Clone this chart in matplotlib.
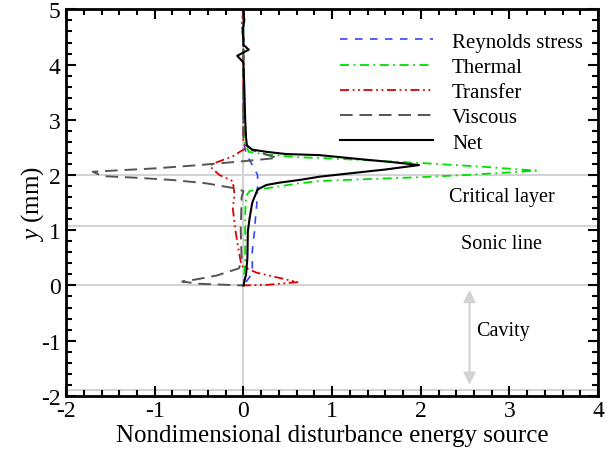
import numpy as np
import matplotlib
matplotlib.use('Agg')
import matplotlib.pyplot as plt
from matplotlib.ticker import MultipleLocator

plt.rcParams['font.family'] = ['Liberation Serif', 'DejaVu Serif']
plt.rcParams['mathtext.fontset'] = 'custom'
plt.rcParams['mathtext.rm'] = 'Liberation Serif'
plt.rcParams['mathtext.it'] = 'Liberation Serif:italic'
plt.rcParams['axes.unicode_minus'] = False

# Energy budget profiles (x = source term, y in mm)
reynolds_x = [0.0, 0.0, 0.01, 0.03, 0.07, 0.1, 0.16, 0.16, 0.15, 0.135, 0.125, 0.1, 0.1, 0.07, 0.0]
reynolds_y = [5.0, 2.8, 2.55, 2.4, 2.27, 2.18, 2.0, 1.8, 1.46, 1.2, 0.98, 0.62, 0.3, 0.15, 0.0]

thermal_x = [0.0, 0.0, 0.01, 0.06, 0.26, 0.63, 0.86, 1.98, 2.7, 3.3, 3.03, 2.5, 1.98, 1.3,
             0.86, 0.63, 0.26, 0.07, 0.03, 0.02, 0.02, 0.02, 0.0]
thermal_y = [5.0, 3.0, 2.6, 2.42, 2.37, 2.32, 2.31, 2.22, 2.15, 2.08, 2.05, 2.0, 1.96, 1.92,
             1.89, 1.85, 1.76, 1.71, 1.62, 1.3, 0.8, 0.4, 0.0]

transfer_x = [0.0, -0.02, 0.0, 0.0, 0.03, -0.12, -0.35, -0.38, -0.27, -0.12, -0.1, -0.12,
              -0.09, -0.05, -0.02, 0.15, 0.37, 0.61, 0.26, 0.0]
transfer_y = [5.0, 4.7, 4.5, 2.6, 2.49, 2.34, 2.2, 2.16, 2.0, 1.89, 1.64, 1.4,
              1.0, 0.6, 0.35, 0.23, 0.15, 0.06, 0.01, 0.0]

viscous_x = [0.0, 0.0, 0.1, 0.38, 0.0, -0.5, -1.0, -1.7, -1.59, -1.2, -0.8, -0.42, -0.1, 0.0,
             -0.02, -0.03, -0.02, -0.05, -0.3, -0.53, -0.69, -0.5, 0.0]
viscous_y = [5.0, 2.6, 2.45, 2.31, 2.25, 2.18, 2.12, 2.06, 1.98, 1.95, 1.91, 1.85, 1.76, 1.71,
             1.6, 1.0, 0.45, 0.31, 0.18, 0.11, 0.07, 0.03, 0.0]

net_x = [0.0, 0.01, -0.01, 0.0, 0.0, 0.06, -0.07, 0.0, 0.01, 0.02, 0.03, 0.04, 0.1, 0.26, 0.48,
         0.86, 1.3, 1.7, 1.98, 1.6, 1.2, 0.86, 0.63, 0.4, 0.26, 0.16, 0.1, 0.07, 0.05, 0.045,
         0.03, 0.0]
net_y = [5.0, 4.8, 4.6, 4.45, 4.36, 4.27, 4.16, 4.04, 3.6, 3.0, 2.67, 2.53, 2.46, 2.42, 2.38,
         2.36, 2.29, 2.23, 2.18, 2.1, 2.03, 1.97, 1.91, 1.86, 1.82, 1.74, 1.5, 1.22, 0.98, 0.5,
         0.2, 0.0]

# reference lines: critical layer, sonic line, wall, cavity bottom
ref_levels = [2.0, 1.07, 0.0, -1.9]
region_labels = ['Critical layer', 'Sonic line', 'Cavity']
region_y = [1.61, 0.76, -0.82]

fig = plt.figure(figsize=(6.06, 4.52), dpi=100)
ax = fig.add_axes([0.109, 0.122, 0.878, 0.855])

for lv in ref_levels:
    ax.axhline(lv, color='#d3d3d3', lw=1.5, zorder=1)
ax.axvline(0.0, color='#d3d3d3', lw=1.5, zorder=1)

ax.plot(reynolds_x, reynolds_y, color='#3344ff', lw=1.2, dashes=(4.5, 4.5), label='Reynolds stress')
ax.plot(thermal_x, thermal_y, color='#00dd00', lw=1.3, dashes=(5, 2.5, 1, 2.5), label='Thermal')
ax.plot(transfer_x, transfer_y, color='#dd0000', lw=1.3, dashes=(5, 2, 1, 2, 1, 2), label='Transfer')
ax.plot(viscous_x, viscous_y, color='#555555', lw=1.4, dashes=(6.5, 3.5), label='Viscous')
ax.plot(net_x, net_y, color='black', lw=1.5, label='Net')

# cavity arrow
ax.annotate('', xy=(2.55, -1.8), xytext=(2.55, -0.08),
            arrowprops=dict(arrowstyle='<|-|>', color='#d3d3d3', lw=1.5, mutation_scale=18,
                            shrinkA=0, shrinkB=0))

ax.text(2.91, region_y[0], region_labels[0], fontsize=14.5, ha='center', va='center')
ax.text(2.91, region_y[1], region_labels[1], fontsize=14.5, ha='center', va='center')
ax.text(2.62, region_y[2], region_labels[2], fontsize=14.5, ha='left', va='center')

ax.set_xlim(-2, 4)
ax.set_ylim(-2, 5)
ax.xaxis.set_major_locator(MultipleLocator(1))
ax.xaxis.set_minor_locator(MultipleLocator(0.2))
ax.yaxis.set_major_locator(MultipleLocator(1))
ax.yaxis.set_minor_locator(MultipleLocator(0.2))
ax.tick_params(which='both', direction='in', top=True, right=True, width=1.5, labelsize=17)
ax.tick_params(which='major', length=7, pad=4)
ax.tick_params(axis='x', which='major', pad=3)
ax.tick_params(which='minor', length=4)
for sp in ax.spines.values():
    sp.set_linewidth(2)

ax.set_xlabel('Nondimensional disturbance energy source', fontsize=18, labelpad=2)
ax.set_ylabel(r'$y$ (mm)', fontsize=18, labelpad=-4)

ax.legend(loc='upper left', bbox_to_anchor=(0.514, 0.941), frameon=False, fontsize=15,
          handlelength=4.5, handletextpad=0.9, labelspacing=0.27, borderpad=0, borderaxespad=0)

fig.savefig('out.png', dpi=100)
